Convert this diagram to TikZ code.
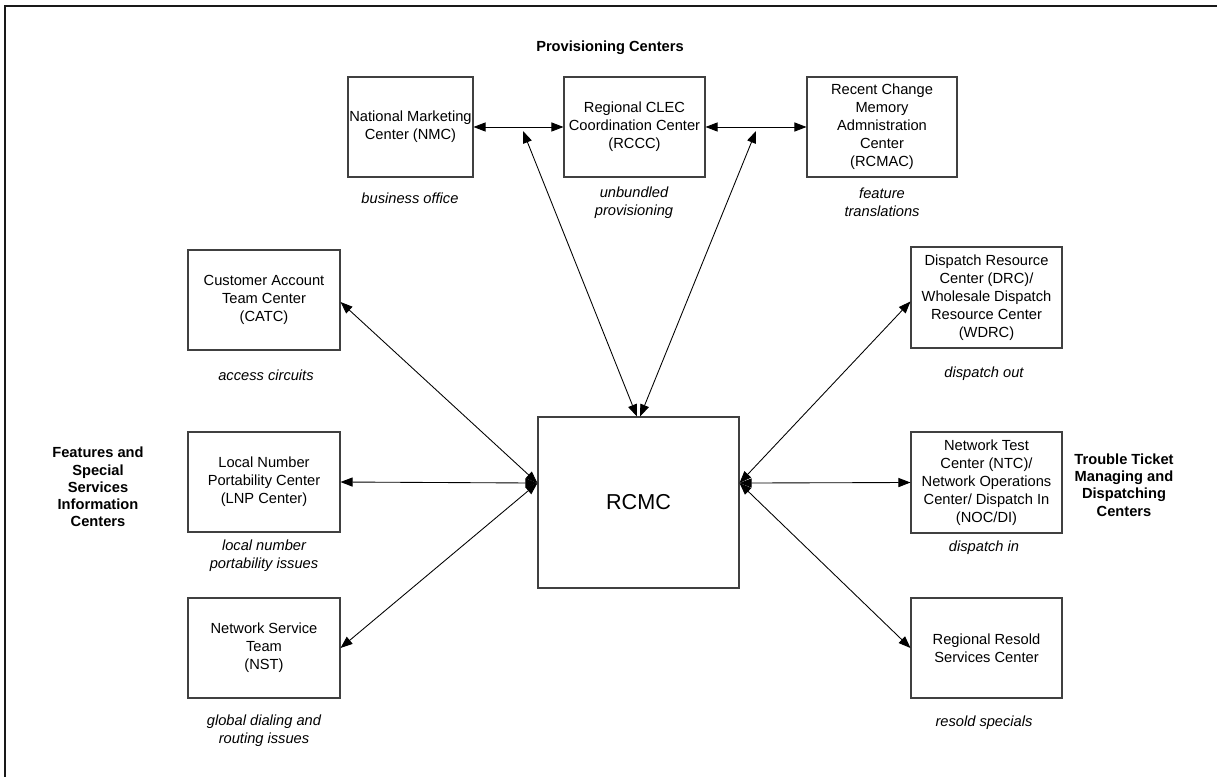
\documentclass[tikz,border=0pt]{standalone}
\usepackage{fontspec}
\setmainfont{Liberation Sans}
\usetikzlibrary{arrows.meta}
\begin{document}
\begin{tikzpicture}[x=0.75pt,y=-0.75pt,
  box/.style={draw=black!75, line width=0.8pt, align=center, inner sep=1pt,
    font=\fontsize{11}{13.5}\selectfont},
  lab/.style={align=center, inner sep=0pt, font=\fontsize{11}{13.5}\selectfont\itshape},
  grp/.style={align=center, inner sep=0pt, font=\fontsize{11}{12.9}\selectfont\bfseries},
  con/.style={line width=0.65pt,
    {Triangle[length=9pt,width=6.8pt]}-{Triangle[length=9pt,width=6.8pt]}},
  frame/.style={line width=1.7pt, draw=black!90}]
\useasboundingbox (0,0) rectangle (1217,777);
\clip (0,0) rectangle (1217,777);
\draw[frame] (1230,6) -- (5,6) -- (5,790);

% provisioning centers
\node[grp] (provt) at (610,48) {Provisioning Centers};
\node[box, minimum width=93.75pt, minimum height=75pt] (nmc) at (410.5,127)
  {National Marketing\\Center (NMC)};
\node[box, minimum width=105.75pt, minimum height=75pt] (rccc) at (634.5,127)
  {Regional CLEC\\Coordination Center\\(RCCC)};
\node[box, minimum width=112.5pt, minimum height=75pt] (rcmac) at (882,127)
  {Recent Change\\Memory\\Admnistration\\Center\\(RCMAC)};
\node[lab] (nmcl) at (410,198) {business office};
\node[lab] (rcccl) at (634,203) {unbundled\\provisioning};
\node[lab] (rcmacl) at (882,202) {feature\\translations};

% central
\node[box, minimum width=150.75pt, minimum height=128.25pt,
  font=\fontsize{16.2}{19}\selectfont] (rcmc) at (638.5,502.5) {RCMC};

% left column
\node[box, minimum width=114pt, minimum height=75pt] (catc) at (264,300)
  {Customer Account\\Team Center\\(CATC)};
\node[box, minimum width=114pt, minimum height=75pt] (lnp) at (264,482)
  {Local Number\\Portability Center\\(LNP Center)};
\node[box, minimum width=114pt, minimum height=75pt] (nst) at (264,648)
  {Network Service\\Team\\(NST)};
\node[lab] (catcl) at (266,375) {access circuits};
\node[lab] (lnpl) at (264,556) {local number\\portability issues};
\node[lab] (nstl) at (264,731) {global dialing and\\routing issues};
\node[grp] (leftg) at (98,487) {Features and\\Special\\Services\\Information\\Centers};

% right column
\node[box, minimum width=113.25pt, minimum height=75.75pt] (drc) at (986.5,297.5)
  {Dispatch Resource\\Center (DRC)/\\Wholesale Dispatch\\Resource Center\\(WDRC)};
\node[box, minimum width=113.25pt, minimum height=75.75pt] (ntc) at (986.5,482.5)
  {Network Test\\Center (NTC)/\\Network Operations\\Center/ Dispatch In\\(NOC/DI)};
\node[box, minimum width=113.25pt, minimum height=75pt] (rrsc) at (986.5,648)
  {Regional Resold\\Services Center};
\node[lab] (drcl) at (984,374) {dispatch out};
\node[lab] (ntcl) at (984,548) {dispatch in};
\node[lab] (rrscl) at (984,723) {resold specials};
\node[grp] (rightg) at (1124,485) {Trouble Ticket\\Managing and\\Dispatching\\Centers};

% connectors
\coordinate (m1) at (523,131);
\coordinate (m2) at (756,131);
\coordinate (rl) at ([yshift=14.6pt]rcmc.west);
\coordinate (rr) at ([yshift=14.6pt]rcmc.east);
\draw[con] (nmc.east) -- (rccc.west);
\draw[con] (rccc.east) -- (rcmac.west);
\draw[con] (m1) -- ([xshift=-1.2pt]rcmc.north);
\draw[con] (m2) -- ([xshift=1.2pt]rcmc.north);
\draw[con] ([yshift=-1.5pt]catc.east) -- (rl);
\draw[con] (lnp.east) -- (rl);
\draw[con] (nst.east) -- (rl);
\draw[con] ([yshift=-3pt]drc.west) -- (rr);
\draw[con] (ntc.west) -- (rr);
\draw[con] (rrsc.west) -- (rr);
\end{tikzpicture}
\end{document}
